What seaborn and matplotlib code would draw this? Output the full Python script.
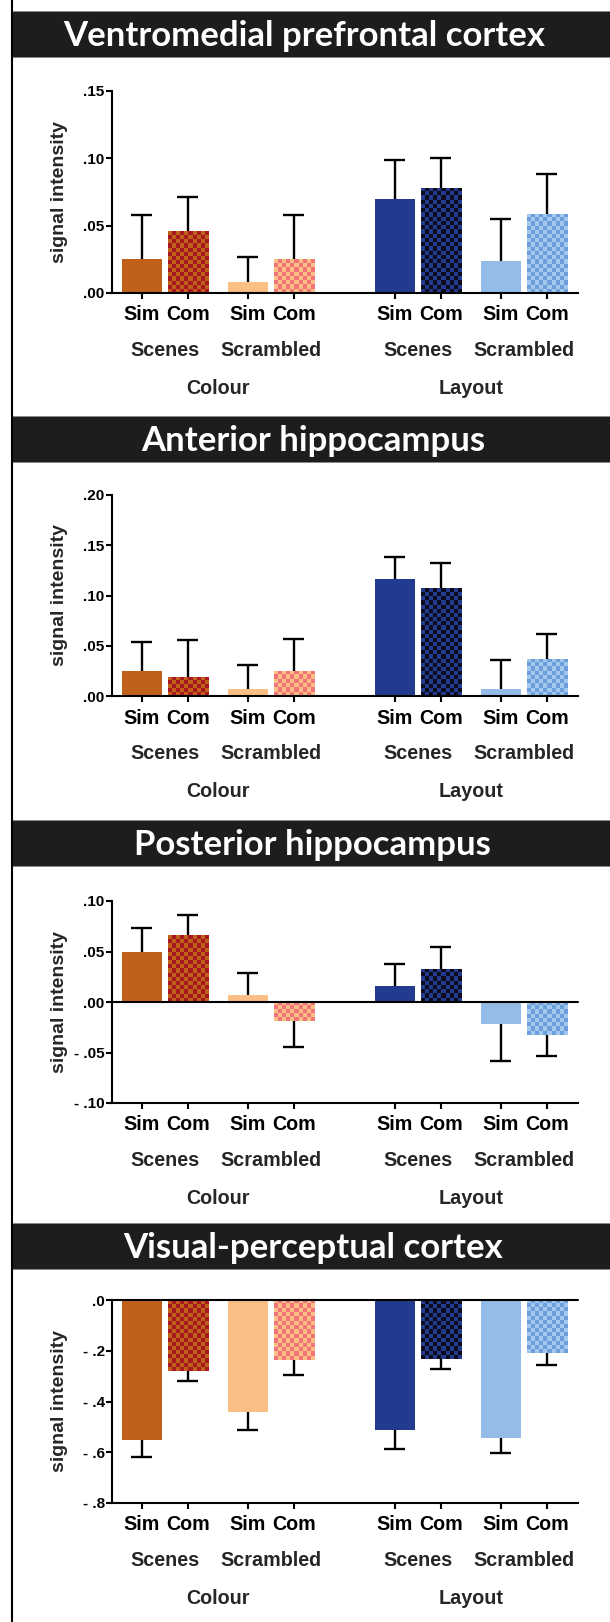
import numpy as np
import pandas as pd
import matplotlib
matplotlib.use("Agg")
import matplotlib.pyplot as plt
import seaborn as sns
from matplotlib.colors import ListedColormap
from matplotlib.patches import Rectangle
from matplotlib.lines import Line2D

# ---- data ----
regions = ["Ventromedial prefrontal cortex", "Anterior hippocampus",
           "Posterior hippocampus", "Visual-perceptual cortex"]
tasks = ["Colour", "Layout"]
stimuli = ["Scenes", "Scrambled"]
conditions = ["Sim", "Com"]

# bar order: Colour/Scenes/Sim, Colour/Scenes/Com, Colour/Scrambled/Sim, Colour/Scrambled/Com,
#            Layout/Scenes/Sim, Layout/Scenes/Com, Layout/Scrambled/Sim, Layout/Scrambled/Com
vmpfc_mean = [0.025, 0.046, 0.008, 0.025, 0.070, 0.078, 0.024, 0.059]
vmpfc_sem = [0.033, 0.025, 0.019, 0.033, 0.029, 0.022, 0.031, 0.029]
ant_hipp_mean = [0.025, 0.019, 0.007, 0.025, 0.116, 0.107, 0.007, 0.037]
ant_hipp_sem = [0.029, 0.037, 0.024, 0.032, 0.022, 0.025, 0.029, 0.025]
post_hipp_mean = [0.050, 0.066, 0.007, -0.019, 0.016, 0.033, -0.022, -0.033]
post_hipp_sem = [0.023, 0.020, 0.022, 0.026, 0.022, 0.021, 0.036, 0.020]
visual_mean = [-0.553, -0.278, -0.443, -0.237, -0.513, -0.232, -0.543, -0.209]
visual_sem = [0.067, 0.042, 0.069, 0.059, 0.076, 0.039, 0.058, 0.046]

means = [vmpfc_mean, ant_hipp_mean, post_hipp_mean, visual_mean]
sems = [vmpfc_sem, ant_hipp_sem, post_hipp_sem, visual_sem]

# y axis per panel: (min, max, step, decimals)
y_axes = [(0.0, 0.15, 0.05, 2), (0.0, 0.20, 0.05, 2),
          (-0.10, 0.10, 0.05, 2), (-0.8, 0.0, 0.2, 1)]

# ---- styling ----
sim_colors = {("Colour", "Scenes"): "#c0611b", ("Colour", "Scrambled"): "#fbbe85",
              ("Layout", "Scenes"): "#223b8f", ("Layout", "Scrambled"): "#93bce6"}
com_checker = {("Colour", "Scenes"): ("#c0611b", "#a8171d"),
               ("Colour", "Scrambled"): ("#fbbe85", "#f27479"),
               ("Layout", "Scenes"): ("#223b8f", "#0c0c1e"),
               ("Layout", "Scrambled"): ("#a3c8ee", "#6b9edb")}

sns.set_style("ticks")
plt.rcParams["font.family"] = ["Liberation Sans", "DejaVu Sans"]
plt.rcParams["font.weight"] = "bold"
plt.rcParams["axes.labelweight"] = "bold"

LABEL_FS = 14.2

W, H = 610, 1622
fig = plt.figure(figsize=(W / 100, H / 100), dpi=100)

# build long table with layout positions
rows = []
k = 0
for ti, task in enumerate(tasks):
    for si, stim in enumerate(stimuli):
        for ci, cond in enumerate(conditions):
            rows.append(dict(idx=k, task=task, stim=stim, cond=cond,
                             pos=ci + si * 2.3 + ti * 5.5,
                             key=f"{task}-{stim}-{cond}"))
            k += 1
layout = pd.DataFrame(rows)

palette = {}
for _, r in layout.iterrows():
    if r["cond"] == "Sim":
        palette[r["key"]] = sim_colors[(r["task"], r["stim"])]
    else:
        palette[r["key"]] = com_checker[(r["task"], r["stim"])][0]

panel_tops = [11, 416, 820, 1223]
title_x = [304, 313, 312, 313]
ax_px = [(91, 293), (495, 696), (901, 1103), (1300, 1503)]
AX_L, AX_R = 112, 578
XLIM = (-0.65, 9.48)

# left frame line
fig.add_artist(Line2D([12 / W, 12 / W], [0, 1], color="black", lw=1.5,
                      transform=fig.transFigure))


def fmt_tick(v, dec):
    s = f"{abs(v):.{dec}f}".lstrip("0")
    if abs(v) < 1e-9:
        return s
    return ("- " + s) if v < 0 else s


for p, region in enumerate(regions):
    top = panel_tops[p]
    fig.add_artist(Rectangle((12 / W, 1 - (top + 46) / H), 1, 46 / H,
                             transform=fig.transFigure, facecolor="#1d1d1b",
                             edgecolor="#8a8a8a", lw=0.6))
    fig.text(title_x[p] / W, 1 - (top + 35) / H, region, ha="center", va="baseline",
             color="white", fontsize=25, fontweight="bold", family="Lato")

    y0, y1 = ax_px[p]
    ax = fig.add_axes([AX_L / W, 1 - y1 / H, (AX_R - AX_L) / W, (y1 - y0) / H])

    df = layout.copy()
    df["mean"] = means[p]
    df["sem"] = sems[p]

    sns.barplot(data=df, x="pos", y="mean", hue="key", palette=palette,
                native_scale=True, dodge=False, width=0.87, errorbar=None,
                saturation=1, legend=False, ax=ax, linewidth=0)

    ymin, ymax, step, dec = y_axes[p]
    ax.set_xlim(*XLIM)
    ax.set_ylim(ymin, ymax)

    # checkerboard fill on "Com" bars
    px_per_x = (AX_R - AX_L) / (XLIM[1] - XLIM[0])
    px_per_y = (y1 - y0) / (ymax - ymin)
    for patch in list(ax.patches):
        xc = patch.get_x() + patch.get_width() / 2
        i = int(np.argmin(np.abs(df["pos"].values - xc)))
        r = df.iloc[i]
        if r["cond"] != "Com":
            continue
        bx0, bw = patch.get_x(), patch.get_width()
        by0, bh = patch.get_y(), patch.get_height()
        ylo, yhi = min(by0, by0 + bh), max(by0, by0 + bh)
        ncol = max(1, int(round(bw * px_per_x / 4.2)))
        nrow = max(1, int(round((yhi - ylo) * px_per_y / 4.2)))
        board = np.indices((nrow, ncol)).sum(axis=0) % 2
        c1, c2 = com_checker[(r["task"], r["stim"])]
        im = ax.imshow(board, extent=(bx0, bx0 + bw, ylo, yhi), origin="upper",
                       cmap=ListedColormap([c1, c2]), vmin=0, vmax=1,
                       interpolation="nearest", aspect="auto",
                       zorder=patch.get_zorder() + 0.1)
        im.set_clip_path(patch)

    # one-sided error bars
    cap = 0.23
    for _, r in df.iterrows():
        tip = r["mean"] + (r["sem"] if r["mean"] >= 0 else -r["sem"])
        ax.vlines(r["pos"], r["mean"], tip, color="black", lw=1.7, zorder=4)
        ax.hlines(tip, r["pos"] - cap, r["pos"] + cap, color="black", lw=1.7, zorder=4)

    ax.set_xlim(*XLIM)
    ax.set_ylim(ymin, ymax)

    yt = np.round(np.arange(ymin, ymax + step / 2, step), 3)
    ax.set_yticks(yt)
    ax.set_yticklabels([fmt_tick(v, dec) for v in yt])
    ax.set_xticks(df["pos"])
    ax.set_xticklabels(df["cond"])
    ax.tick_params(axis="y", length=4.3, width=1.5, pad=1, labelsize=11,
                   colors="black")
    ax.tick_params(axis="x", length=4.5, width=1.5, pad=4.5, labelsize=LABEL_FS,
                   colors="black")
    ax.set_xlabel("")
    ax.set_ylabel("signal intensity", fontsize=14, va="center")
    ax.yaxis.set_label_coords((60 - AX_L) / (AX_R - AX_L), 0.5)

    sns.despine(ax=ax)
    for side in ["left", "bottom"]:
        ax.spines[side].set_linewidth(1.5)
        ax.spines[side].set_color("black")
    if ymin < 0:
        ax.axhline(0, color="black", lw=1.5, zorder=5, clip_on=False)

    # group labels below the axis
    for ti, task in enumerate(tasks):
        sub = df[df["task"] == task]
        for stim in stimuli:
            s = sub[sub["stim"] == stim]
            ax.annotate(stim, xy=(s["pos"].mean(), 0), xycoords=("data", "axes fraction"),
                        xytext=(0, -45.4), textcoords="offset points",
                        ha="center", va="baseline", fontsize=LABEL_FS, fontweight="bold")
        ax.annotate(task, xy=(sub["pos"].mean(), 0), xycoords=("data", "axes fraction"),
                    xytext=(0, -72.7), textcoords="offset points",
                    ha="center", va="baseline", fontsize=LABEL_FS, fontweight="bold")

fig.savefig("out.png", dpi=100, facecolor="white")
